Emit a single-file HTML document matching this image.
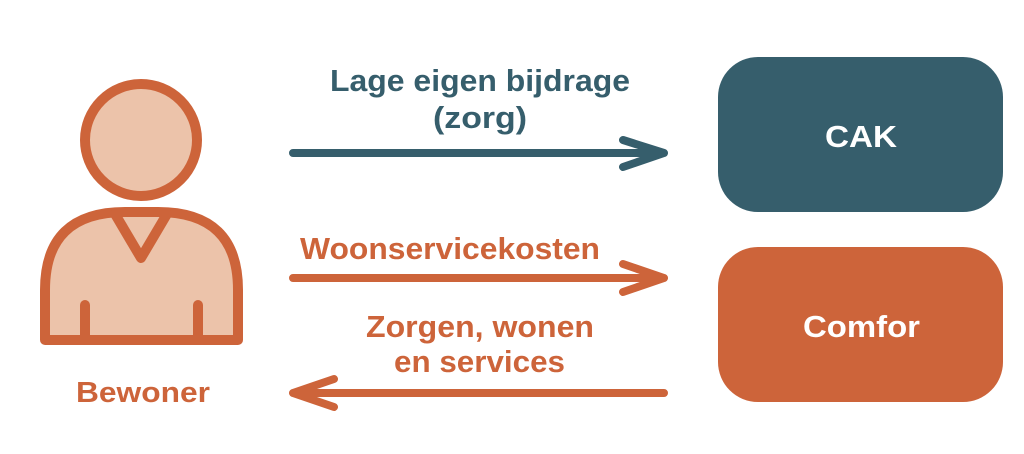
<!DOCTYPE html>
<html><head><style>
body{margin:0;background:#fff;}
svg{display:block;}
text{font-family:"Liberation Sans",sans-serif;font-weight:bold;}
</style></head><body>
<svg width="1024" height="454" viewBox="0 0 1024 454" xmlns="http://www.w3.org/2000/svg">
<g stroke="#cd643a" stroke-width="10" stroke-linecap="round" stroke-linejoin="round" fill="#ecc3aa">
<circle cx="141" cy="140" r="56"/>
<path d="M45 340 L45 290 Q45 212 125 212 L158 212 Q238 212 238 290 L238 340 Z"/>
<path d="M115 214 L141 258 L167 214" fill="none"/>
<path d="M85 305 L85 340 M198 305 L198 340" fill="none"/>
</g>
<text x="76" y="402" font-size="29" fill="#cd643a" textLength="134" lengthAdjust="spacingAndGlyphs">Bewoner</text>
<g stroke-width="8" stroke-linecap="round" stroke-linejoin="round" fill="none">
<path d="M293 153 L664 153 M623 140 L664 153 L623 167" stroke="#365e6c"/>
<path d="M293 278 L664 278 M623 264 L664 278 L623 292" stroke="#cd643a"/>
<path d="M664 393 L293 393 M334 379 L293 393 L334 407" stroke="#cd643a"/>
</g>
<text x="330" y="91" font-size="31" fill="#365e6c" textLength="300" lengthAdjust="spacingAndGlyphs">Lage eigen bijdrage</text>
<text x="433" y="128" font-size="31" fill="#365e6c" textLength="94" lengthAdjust="spacingAndGlyphs">(zorg)</text>
<text x="300" y="259" font-size="31" fill="#cd643a" textLength="300" lengthAdjust="spacingAndGlyphs">Woonservicekosten</text>
<text x="366" y="337" font-size="31" fill="#cd643a" textLength="228" lengthAdjust="spacingAndGlyphs">Zorgen, wonen</text>
<text x="394" y="372" font-size="31" fill="#cd643a" textLength="171" lengthAdjust="spacingAndGlyphs">en services</text>
<rect x="718" y="57" width="285" height="155" rx="40" fill="#365e6c"/>
<rect x="718" y="247" width="285" height="155" rx="40" fill="#cd643a"/>
<text x="825" y="147" font-size="31" fill="#fff" textLength="72" lengthAdjust="spacingAndGlyphs">CAK</text>
<text x="803" y="337" font-size="31" fill="#fff" textLength="117" lengthAdjust="spacingAndGlyphs">Comfor</text>
</svg>
</body></html>
